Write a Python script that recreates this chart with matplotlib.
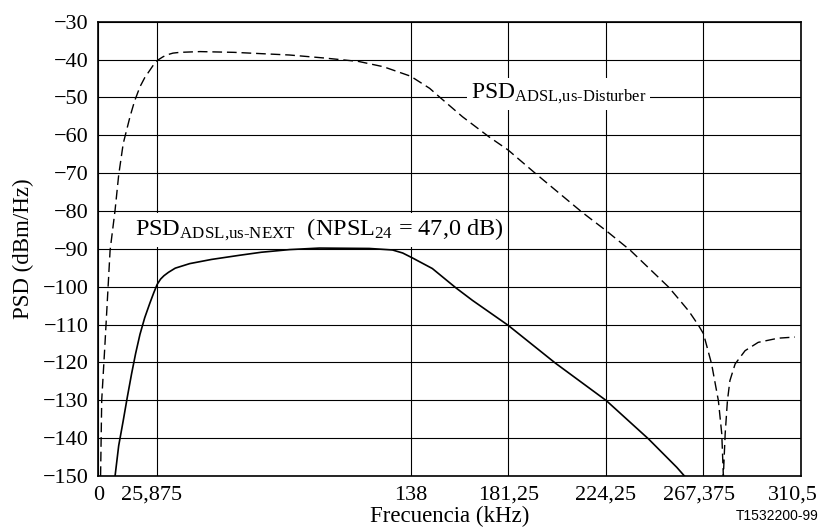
import matplotlib.pyplot as plt
from matplotlib.transforms import ScaledTranslation

plt.rcParams['font.family'] = ['Liberation Serif', 'DejaVu Serif']
plt.rcParams['mathtext.fontset'] = 'custom'
plt.rcParams['mathtext.rm'] = 'Liberation Serif'
plt.rcParams['mathtext.it'] = 'Liberation Serif:italic'
plt.rcParams['mathtext.bf'] = 'Liberation Serif:bold'

# upstream disturber PSD (dashed)
dist_f = [1.0, 1.5, 2.95, 5.2, 7.4, 9, 11, 14, 16, 18.4, 20.5, 22.8, 24.5, 26.4,
          28.5, 30.1, 33, 36, 45, 60, 84.5, 100, 115, 126, 138, 146.4, 150.6,
          160.9, 172.6, 181.1, 193.2, 213.7, 224.4, 235.1, 252, 256.4, 261, 265.2,
          267.4, 271, 274, 275.5, 276.2, 277, 278, 279.1, 281.4, 285.8, 291.6,
          300.4, 307.8]
dist_psd = [-150, -130, -115, -90.4, -79.8, -70.5, -62.2, -55.1, -51, -47.2, -44.8,
            -42.8, -41.3, -40.1, -39.3, -38.8, -38.3, -38.1, -37.9, -38.1, -38.8,
            -39.6, -40.5, -41.9, -44.4, -47.6, -49.8, -55.1, -60.4, -63.9, -70.1,
            -80.3, -85.2, -90.4, -100.1, -103.2, -106.5, -110.2, -112.4, -120.4,
            -130.1, -138.9, -150, -138.9, -130.1, -124.8, -120.4, -116.9, -114.7,
            -113.6, -113.3]

# upstream NEXT PSD (solid)
next_f = [7.4, 9, 11, 12.8, 14.7, 16.5, 18.4, 20.5, 22.8, 24.5, 26, 27.5, 29,
          31, 34, 40.4, 50, 62.4, 72, 84.5, 97.7, 119.7, 130, 134.5, 138.8, 147.6,
          158, 165.3, 181.1, 202, 224.5, 243.1, 255.6, 259]
next_psd = [-150, -142, -135.4, -129.2, -123, -117.6, -112.6, -108.2, -104.3, -101.6,
            -99.4, -98.0, -97.1, -96.2, -95.1, -93.9, -92.8, -91.7, -90.9, -90.2,
            -89.8, -89.9, -90.3, -91.1, -92.4, -95.2, -100.3, -103.6, -110.2,
            -120.2, -130.1, -140.2, -147.7, -150]

x_ticks = [0, 25.875, 138, 181.25, 224.25, 267.375, 310.5]
x_labels = ['0', '25,875', '138', '181,25', '224,25', '267,375', '310,5']
y_ticks = list(range(-150, -29, 10))
y_labels = ['\u2212%d' % abs(v) for v in y_ticks]

fig = plt.figure(figsize=(8.29, 5.29), dpi=100)
ax = fig.add_axes([0.1186, 0.1002, 0.8476, 0.8588])

ax.plot(dist_f, dist_psd, color='black', lw=1.0, linestyle=(0, (7, 3.5)), zorder=4)
ax.plot(next_f, next_psd, color='black', lw=1.2, zorder=4)

ax.set_xlim(0, 310.5)
ax.set_ylim(-150, -30)
ax.set_xticks(x_ticks)
ax.set_xticklabels(x_labels)
ax.set_yticks(y_ticks)
ax.set_yticklabels(y_labels)
ax.tick_params(length=0, labelsize=16, pad=7)
ax.grid(True, color='black', lw=0.8)
ax.set_axisbelow(True)
for s in ax.spines.values():
    s.set_linewidth(1.2)

# small manual offsets of some x labels like in the original
lbls = ax.get_xticklabels()
lbls[1].set_transform(lbls[1].get_transform() + ScaledTranslation(-0.05, 0, fig.dpi_scale_trans))
lbls[5].set_transform(lbls[5].get_transform() + ScaledTranslation(-0.04, 0, fig.dpi_scale_trans))
lbls[6].set_transform(lbls[6].get_transform() + ScaledTranslation(-0.08, 0, fig.dpi_scale_trans))

ax.set_xlabel('Frecuencia (kHz)', fontsize=16.5, labelpad=1)
ax.set_ylabel('PSD (dBm/Hz)', fontsize=16.5, labelpad=6)

ax.text(164.6, -50.3, r'PSD$_{\text{ADSL,us-Disturber}}$', fontsize=17,
        ha='left', va='baseline', zorder=3,
        bbox=dict(facecolor='white', edgecolor='none', pad=3))
ax.text(16.0, -86.4, r'PSD$_{\text{ADSL,us-NEXT}}$  (NPSL$_{24}$ = 47,0 dB)', fontsize=17.5,
        ha='left', va='baseline', zorder=3,
        bbox=dict(facecolor='white', edgecolor='none', pad=3))

fig.text(0.987, 0.017, 'T1532200-99', fontsize=10, family='Liberation Sans',
         ha='right', va='baseline')

fig.savefig('out.png', dpi=100)
